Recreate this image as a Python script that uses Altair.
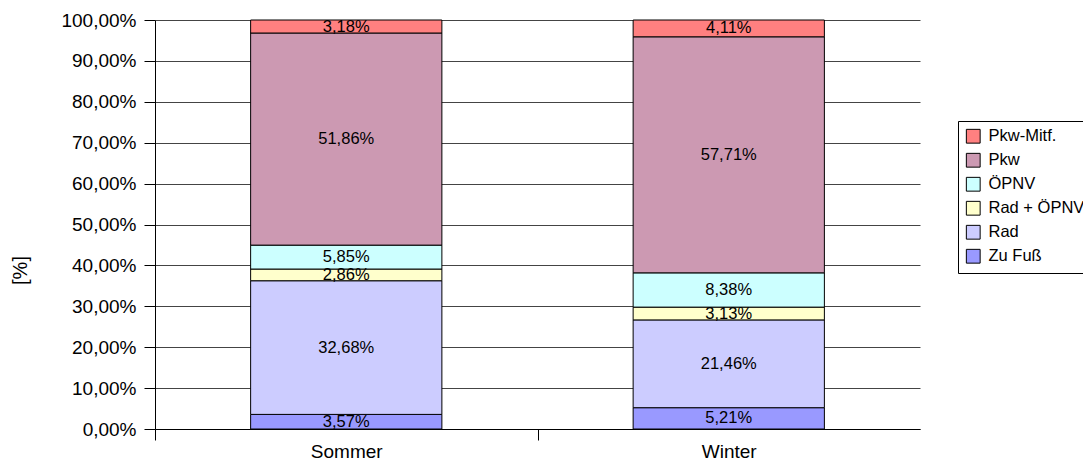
import altair as alt
import pandas as pd

seasons = ["Sommer", "Winter"]
modes = ["Zu Fuß", "Rad", "Rad + ÖPNV", "ÖPNV", "Pkw", "Pkw-Mitf."]
sommer = [3.57, 32.68, 2.86, 5.85, 51.86, 3.18]
winter = [5.21, 21.46, 3.13, 8.38, 57.71, 4.11]
legend_order = ["Pkw-Mitf.", "Pkw", "ÖPNV", "Rad + ÖPNV", "Rad", "Zu Fuß"]
legend_colors = ["#FF8080", "#CC99B2", "#CCFFFF", "#FFFFCC", "#CCCCFF", "#9999FF"]
y_ticks = [0, 10, 20, 30, 40, 50, 60, 70, 80, 90, 100]

rows = []
for season, vals in zip(seasons, [sommer, winter]):
    for i, (m, v) in enumerate(zip(modes, vals)):
        rows.append({
            "season": season,
            "mode": m,
            "value": v,
            "order": i,
            "label": f"{v:.2f}".replace(".", ",") + "%",
        })
df = pd.DataFrame(rows)

FONT = "Liberation Sans"

yaxis = alt.Axis(
    values=y_ticks,
    labelExpr="replace(format(datum.value, '.2f'), '.', ',') + '%'",
    grid=True, gridColor="#444444", gridWidth=1,
    domainColor="black", tickColor="black", tickSize=11,
    labelFontSize=19, labelPadding=8, labelColor="black",
    title="[%]", titleFontSize=20, titleFontWeight="normal",
    titleColor="black", titlePadding=30, titleY=250,
)
xaxis = alt.Axis(
    tickBand="extent", labelAngle=0, domainColor="black", tickColor="black",
    tickOpacity={"condition": {"test": "datum.index == 1", "value": 0}, "value": 1},
    tickSize=11, labelFontSize=19, labelPadding=2, labelColor="black",
    grid=False, title=None,
)
xenc = alt.X("season:N", sort=seasons, scale=alt.Scale(paddingInner=0, paddingOuter=0), axis=xaxis)

bars = alt.Chart(df).mark_bar(width={"band": 0.5}, stroke="black", strokeWidth=1).encode(
    x=xenc,
    y=alt.Y("value:Q", stack="zero", scale=alt.Scale(domain=[0, 100]), axis=yaxis),
    color=alt.Color(
        "mode:N",
        scale=alt.Scale(domain=legend_order, range=legend_colors),
        legend=alt.Legend(
            orient="none", legendX=803, legendY=101, title=None,
            strokeColor="black", padding=7, symbolType="square", symbolSize=190,
            symbolStrokeColor="black", symbolStrokeWidth=1, symbolOpacity=1,
            labelFontSize=16.5, labelColor="black", rowPadding=5, labelOffset=7,
        ),
    ),
    order=alt.Order("order:Q"),
)

texts = alt.Chart(df).transform_stack(
    stack="value", as_=["y0", "y1"], groupby=["season"], sort=[alt.SortField("order")]
).transform_calculate(
    mid="(datum.y0 + datum.y1) / 2"
).mark_text(fontSize=16.5, color="black", baseline="middle").encode(
    x=xenc,
    y=alt.Y("mid:Q", scale=alt.Scale(domain=[0, 100]), axis=yaxis),
    text="label:N",
)

chart = alt.layer(bars, texts).properties(
    width=765, height=409,
    autosize=alt.AutoSizeParams(type="none"),
    padding={"left": 147, "top": 12, "right": 163, "bottom": 31},
).configure(font=FONT).configure_view(stroke=None)

chart.save("out.html", embed_options={"renderer": "svg", "actions": False})
